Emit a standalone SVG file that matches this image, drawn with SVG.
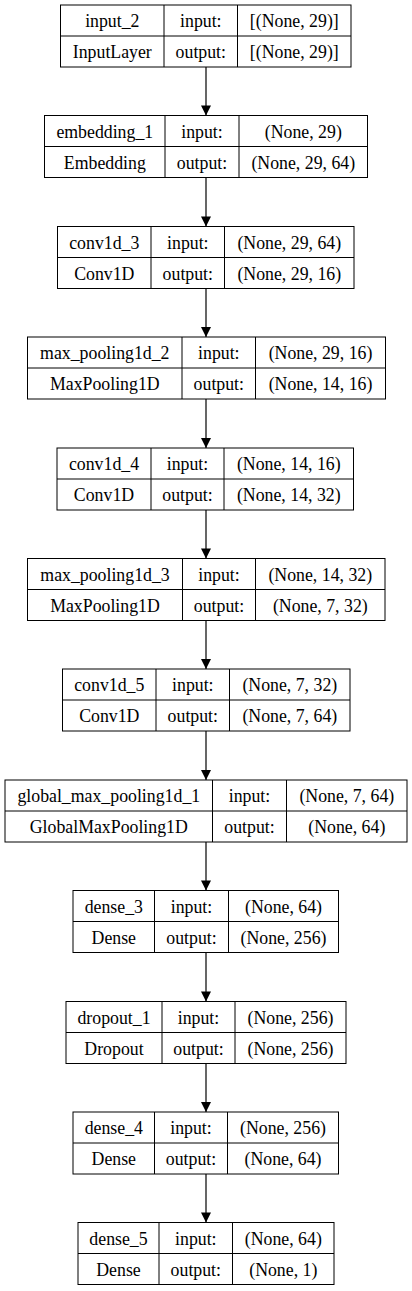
<svg xmlns="http://www.w3.org/2000/svg" width="412" height="1291" viewBox="0 0 412 1291">
<defs>
<marker id="ah" viewBox="0 0 10 10" refX="10" refY="5" markerUnits="userSpaceOnUse" markerWidth="11" markerHeight="10" orient="auto">
<path d="M0,0 L10,5 L0,10 z" fill="#000"/>
</marker>
<style>
rect{fill:#fff;stroke:#000;stroke-width:1}
.n line{stroke:#000;stroke-width:1}
text{font-family:"Liberation Serif","Times New Roman",serif;font-size:17.8px;fill:#000;text-anchor:middle}
#edges line{stroke:#000;stroke-width:1.2;marker-end:url(#ah)}
</style>
</defs>
<rect x="0" y="0" width="412" height="1291" style="stroke:none"/>
<g id="edges">
<line x1="206" y1="67" x2="206" y2="115.5"/>
<line x1="206" y1="177.5" x2="206" y2="226.5"/>
<line x1="206" y1="288.5" x2="206" y2="337"/>
<line x1="206" y1="399" x2="206" y2="448"/>
<line x1="206" y1="510" x2="206" y2="558.5"/>
<line x1="206" y1="620.5" x2="206" y2="669"/>
<line x1="206" y1="731" x2="206" y2="780"/>
<line x1="206" y1="842" x2="206" y2="890.5"/>
<line x1="206" y1="952.5" x2="206" y2="1001.5"/>
<line x1="206" y1="1063.5" x2="206" y2="1112"/>
<line x1="206" y1="1174" x2="206" y2="1222.5"/>
</g>
<g id="input_2" class="n">
<rect x="60.5" y="5" width="290.5" height="62"/>
<line x1="60.5" y1="36" x2="351" y2="36"/><line x1="164" y1="5" x2="164" y2="67"/><line x1="237.5" y1="5" x2="237.5" y2="67"/>
<text x="112.3" y="27">input_2</text><text x="200.8" y="27">input:</text><text x="294.3" y="27">[(None, 29)]</text>
<text x="112.3" y="58">InputLayer</text><text x="200.8" y="58">output:</text><text x="294.3" y="58">[(None, 29)]</text>
</g>
<g id="embedding_1" class="n">
<rect x="44.5" y="115.5" width="323" height="62"/>
<line x1="44.5" y1="146.5" x2="367.5" y2="146.5"/><line x1="165" y1="115.5" x2="165" y2="177.5"/><line x1="239" y1="115.5" x2="239" y2="177.5"/>
<text x="104.8" y="137.5">embedding_1</text><text x="202" y="137.5">input:</text><text x="303.3" y="137.5">(None, 29)</text>
<text x="104.8" y="168.5">Embedding</text><text x="202" y="168.5">output:</text><text x="303.3" y="168.5">(None, 29, 64)</text>
</g>
<g id="conv1d_3" class="n">
<rect x="57.5" y="226.5" width="296.5" height="62"/>
<line x1="57.5" y1="257.5" x2="354" y2="257.5"/><line x1="151" y1="226.5" x2="151" y2="288.5"/><line x1="224.5" y1="226.5" x2="224.5" y2="288.5"/>
<text x="104.3" y="248.5">conv1d_3</text><text x="187.8" y="248.5">input:</text><text x="289.3" y="248.5">(None, 29, 64)</text>
<text x="104.3" y="279.5">Conv1D</text><text x="187.8" y="279.5">output:</text><text x="289.3" y="279.5">(None, 29, 16)</text>
</g>
<g id="max_pooling1d_2" class="n">
<rect x="27.5" y="337" width="358" height="62"/>
<line x1="27.5" y1="368" x2="385.5" y2="368"/><line x1="182" y1="337" x2="182" y2="399"/><line x1="255.5" y1="337" x2="255.5" y2="399"/>
<text x="104.8" y="359">max_pooling1d_2</text><text x="218.8" y="359">input:</text><text x="320.5" y="359">(None, 29, 16)</text>
<text x="104.8" y="390">MaxPooling1D</text><text x="218.8" y="390">output:</text><text x="320.5" y="390">(None, 14, 16)</text>
</g>
<g id="conv1d_4" class="n">
<rect x="57" y="448" width="296.5" height="62"/>
<line x1="57" y1="479" x2="353.5" y2="479"/><line x1="151" y1="448" x2="151" y2="510"/><line x1="224" y1="448" x2="224" y2="510"/>
<text x="104" y="470">conv1d_4</text><text x="187.5" y="470">input:</text><text x="288.8" y="470">(None, 14, 16)</text>
<text x="104" y="501">Conv1D</text><text x="187.5" y="501">output:</text><text x="288.8" y="501">(None, 14, 32)</text>
</g>
<g id="max_pooling1d_3" class="n">
<rect x="27.5" y="558.5" width="357.5" height="62"/>
<line x1="27.5" y1="589.5" x2="385" y2="589.5"/><line x1="182.5" y1="558.5" x2="182.5" y2="620.5"/><line x1="255.5" y1="558.5" x2="255.5" y2="620.5"/>
<text x="105" y="580.5">max_pooling1d_3</text><text x="219" y="580.5">input:</text><text x="320.3" y="580.5">(None, 14, 32)</text>
<text x="105" y="611.5">MaxPooling1D</text><text x="219" y="611.5">output:</text><text x="320.3" y="611.5">(None, 7, 32)</text>
</g>
<g id="conv1d_5" class="n">
<rect x="62.5" y="669" width="287.5" height="62"/>
<line x1="62.5" y1="700" x2="350" y2="700"/><line x1="156" y1="669" x2="156" y2="731"/><line x1="229.5" y1="669" x2="229.5" y2="731"/>
<text x="109.3" y="691">conv1d_5</text><text x="192.8" y="691">input:</text><text x="289.8" y="691">(None, 7, 32)</text>
<text x="109.3" y="722">Conv1D</text><text x="192.8" y="722">output:</text><text x="289.8" y="722">(None, 7, 64)</text>
</g>
<g id="global_max_pooling1d_1" class="n">
<rect x="5" y="780" width="402" height="62"/>
<line x1="5" y1="811" x2="407" y2="811"/><line x1="212.5" y1="780" x2="212.5" y2="842"/><line x1="286.5" y1="780" x2="286.5" y2="842"/>
<text x="108.8" y="802">global_max_pooling1d_1</text><text x="249.5" y="802">input:</text><text x="346.8" y="802">(None, 7, 64)</text>
<text x="108.8" y="833">GlobalMaxPooling1D</text><text x="249.5" y="833">output:</text><text x="346.8" y="833">(None, 64)</text>
</g>
<g id="dense_3" class="n">
<rect x="73" y="890.5" width="265.5" height="62"/>
<line x1="73" y1="921.5" x2="338.5" y2="921.5"/><line x1="154.5" y1="890.5" x2="154.5" y2="952.5"/><line x1="228.5" y1="890.5" x2="228.5" y2="952.5"/>
<text x="113.8" y="912.5">dense_3</text><text x="191.5" y="912.5">input:</text><text x="283.5" y="912.5">(None, 64)</text>
<text x="113.8" y="943.5">Dense</text><text x="191.5" y="943.5">output:</text><text x="283.5" y="943.5">(None, 256)</text>
</g>
<g id="dropout_1" class="n">
<rect x="66" y="1001.5" width="280" height="62"/>
<line x1="66" y1="1032.5" x2="346" y2="1032.5"/><line x1="162" y1="1001.5" x2="162" y2="1063.5"/><line x1="235" y1="1001.5" x2="235" y2="1063.5"/>
<text x="114" y="1023.5">dropout_1</text><text x="198.5" y="1023.5">input:</text><text x="290.5" y="1023.5">(None, 256)</text>
<text x="114" y="1054.5">Dropout</text><text x="198.5" y="1054.5">output:</text><text x="290.5" y="1054.5">(None, 256)</text>
</g>
<g id="dense_4" class="n">
<rect x="73" y="1112" width="265.5" height="62"/>
<line x1="73" y1="1143" x2="338.5" y2="1143"/><line x1="154.5" y1="1112" x2="154.5" y2="1174"/><line x1="227.5" y1="1112" x2="227.5" y2="1174"/>
<text x="113.8" y="1134">dense_4</text><text x="191" y="1134">input:</text><text x="283" y="1134">(None, 256)</text>
<text x="113.8" y="1165">Dense</text><text x="191" y="1165">output:</text><text x="283" y="1165">(None, 64)</text>
</g>
<g id="dense_5" class="n">
<rect x="78" y="1222.5" width="256" height="62"/>
<line x1="78" y1="1253.5" x2="334" y2="1253.5"/><line x1="159" y1="1222.5" x2="159" y2="1284.5"/><line x1="232.5" y1="1222.5" x2="232.5" y2="1284.5"/>
<text x="118.5" y="1244.5">dense_5</text><text x="195.8" y="1244.5">input:</text><text x="283.3" y="1244.5">(None, 64)</text>
<text x="118.5" y="1275.5">Dense</text><text x="195.8" y="1275.5">output:</text><text x="283.3" y="1275.5">(None, 1)</text>
</g>
</svg>
